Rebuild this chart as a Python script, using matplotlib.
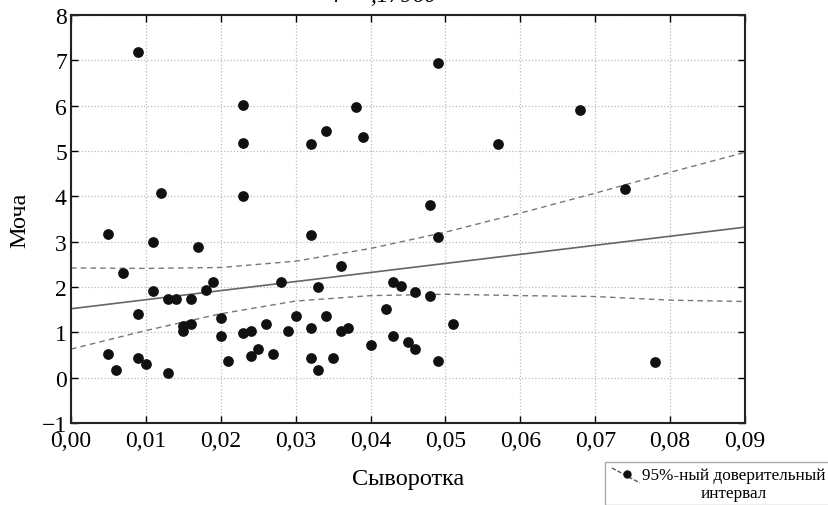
import numpy as np
from matplotlib import pyplot as plt
from matplotlib.lines import Line2D
from matplotlib.patches import Rectangle
from matplotlib.ticker import FuncFormatter

plt.rcParams['font.family'] = ['Liberation Serif', 'DejaVu Serif']

## scatter points
serum = [0.005, 0.005, 0.006, 0.007, 0.009, 0.009, 0.009, 0.010, 0.011, 0.011,
         0.012, 0.013, 0.013, 0.014, 0.015, 0.015, 0.016, 0.016, 0.017, 0.018,
         0.019, 0.020, 0.020, 0.021, 0.023, 0.023, 0.023, 0.023, 0.024, 0.024,
         0.025, 0.026, 0.027, 0.028, 0.029, 0.030, 0.032, 0.032, 0.032, 0.032,
         0.033, 0.033, 0.034, 0.034, 0.035, 0.036, 0.036, 0.037, 0.038, 0.039,
         0.040, 0.042, 0.043, 0.043, 0.044, 0.045, 0.046, 0.046, 0.048, 0.048,
         0.049, 0.049, 0.049, 0.051, 0.057, 0.068, 0.074, 0.078]
urine = [3.18, 0.53, 0.17, 2.30, 7.18, 1.41, 0.44, 0.30, 2.99, 1.91,
         4.07, 0.10, 1.74, 1.74, 1.13, 1.04, 1.18, 1.74, 2.89, 1.94,
         2.10, 1.32, 0.93, 0.36, 6.02, 5.18, 4.00, 0.99, 1.02, 0.47,
         0.63, 1.18, 0.53, 2.10, 1.02, 1.35, 5.15, 3.15, 1.09, 0.43,
         2.00, 0.17, 5.44, 1.35, 0.43, 2.46, 1.02, 1.09, 5.96, 5.31,
         0.73, 1.52, 2.10, 0.93, 2.03, 0.79, 1.88, 0.63, 3.80, 1.81,
         6.95, 3.11, 0.37, 1.18, 5.15, 5.91, 4.16, 0.34]

## regression line and 95% band, read at these x values
band_x = [0.00, 0.01, 0.02, 0.03, 0.04, 0.05, 0.06, 0.07, 0.08, 0.09]
fit_y = [1.52, 1.72, 1.92, 2.12, 2.32, 2.52, 2.72, 2.92, 3.12, 3.32]
upper_y = [2.42, 2.41, 2.43, 2.57, 2.85, 3.21, 3.63, 4.07, 4.53, 4.97]
lower_y = [0.63, 1.04, 1.41, 1.69, 1.81, 1.84, 1.81, 1.79, 1.71, 1.68]

fig = plt.figure(figsize=(8.29, 5.06), dpi=100)
ax = fig.add_axes([71/829, 1-424/506, 674/829, 408/506])

ax.grid(True, color='#bbbbbb', linestyle=':', linewidth=0.9)
ax.set_axisbelow(True)

ax.plot(band_x, fit_y, '-', color='#666666', linewidth=1.2)
ax.plot(band_x, upper_y, '--', color='#777777', linewidth=1.0, dashes=(4, 3))
ax.plot(band_x, lower_y, '--', color='#777777', linewidth=1.0, dashes=(4, 3))
ax.scatter(serum, urine, s=45, color='#111111', zorder=3)

ax.set_xlim(0, 0.09)
ax.set_ylim(-1, 8)
ax.set_xticks(np.arange(0, 0.0901, 0.01))
ax.set_yticks(range(-1, 9))
ax.xaxis.set_major_formatter(FuncFormatter(lambda v, p: ('%.2f' % v).replace('.', ',')))
ax.yaxis.set_major_formatter(FuncFormatter(lambda v, p: ('%d' % round(v)).replace('-', '\u2212')))
ax.tick_params(direction='in', top=True, right=True, labelsize=17, length=5, width=1.0, pad=3)
ax.tick_params(axis='x', pad=5)
for s in ax.spines.values():
	s.set_linewidth(1.5)
	s.set_color('#222222')

ax.set_xlabel('Сыворотка', fontsize=17.5, labelpad=12)
ax.set_ylabel('Моча', fontsize=17.5, labelpad=8)

# cut-off title at top edge
fig.text(0.465, 1-2/506, 'r = ,17960', fontsize=17, ha='center', va='baseline', style='italic')

# hand drawn legend box
fig.patches.append(Rectangle((605/829, 0), 230/829, 43/506, transform=fig.transFigure,
	fill=False, edgecolor='#aaaaaa', linewidth=1.0))
fig.lines.append(Line2D([612/829, 640/829], [1-469/506, 1-484/506], transform=fig.transFigure,
	color='#555555', linestyle='--', linewidth=1.0, dashes=(3, 1.5)))
fig.lines.append(Line2D([627/829], [1-475/506], transform=fig.transFigure,
	marker='o', markersize=5, color='#111111'))
fig.text(734/829, 1-485/506, '95%-ный доверительный\nинтервал', fontsize=12.3,
	ha='center', va='center', linespacing=1.15)

plt.savefig('out.png', dpi=100)
